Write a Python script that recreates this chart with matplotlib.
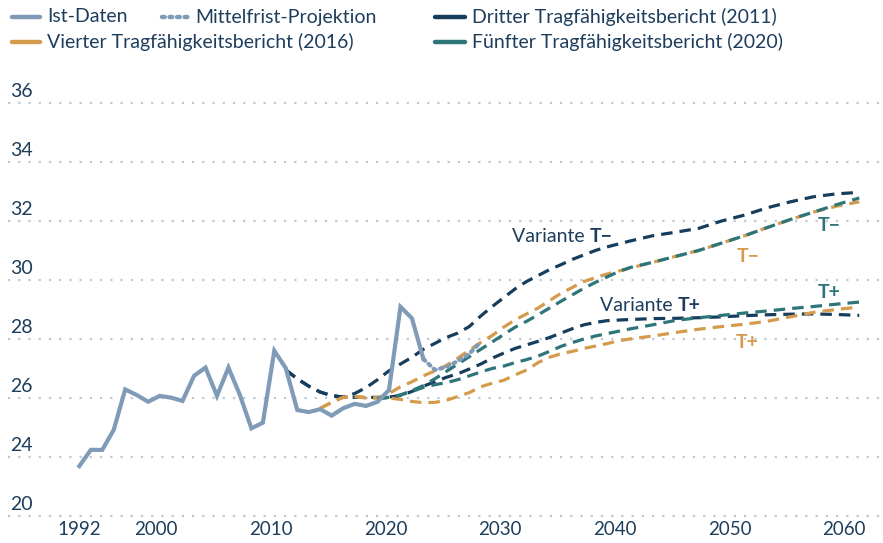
import matplotlib.pyplot as plt
from matplotlib.lines import Line2D

plt.rcParams['font.family'] = ['Lato', 'DejaVu Sans']

# --- data -------------------------------------------------------------
ist_years = list(range(1992, 2023))
ist = [23.69, 24.24, 24.24, 24.92, 26.29, 26.10, 25.87, 26.07, 26.01, 25.90,
       26.75, 27.03, 26.07, 27.03, 26.10, 24.97, 25.16, 27.60, 27.01, 25.59,
       25.52, 25.62, 25.40, 25.65, 25.80, 25.73, 25.87, 26.27, 29.09, 28.70, 27.32]

mf_years = list(range(2022, 2028))
mf = [27.32, 26.95, 27.05, 27.25, 27.50, 27.90]

late_years = list(range(2042, 2061, 2))

# Dritter Tragfähigkeitsbericht (2011)
d_years = list(range(2010, 2041)) + late_years
d_tminus = [26.95, 26.65, 26.40, 26.20, 26.08, 26.03, 26.15, 26.35, 26.62, 26.92,
            27.15, 27.38, 27.65, 27.85, 28.05, 28.20, 28.42, 28.78, 29.10, 29.40,
            29.70, 29.95, 30.15, 30.35, 30.52, 30.70, 30.85, 31.00, 31.12, 31.22,
            31.32,
            31.50, 31.62, 31.75, 32.00, 32.20, 32.45, 32.65, 32.82, 32.92, 32.97]
d_tplus = [26.95, 26.65, 26.40, 26.20, 26.08, 26.03, 26.02, 26.02, 26.02, 26.03,
           26.08, 26.22, 26.40, 26.55, 26.70, 26.82, 26.98, 27.15, 27.35, 27.52,
           27.68, 27.80, 27.92, 28.05, 28.20, 28.35, 28.48, 28.56, 28.62, 28.64,
           28.66,
           28.69, 28.70, 28.72, 28.75, 28.79, 28.82, 28.84, 28.85, 28.83, 28.80]

# Vierter Tragfähigkeitsbericht (2016)
v_years = list(range(2013, 2041)) + late_years
v_tminus = [25.65, 25.85, 26.02, 26.05, 26.00, 26.00, 26.15, 26.38, 26.55,
            26.75, 26.92, 27.10, 27.35, 27.62, 27.88, 28.12, 28.40,
            28.65, 28.85, 29.05, 29.30, 29.55, 29.75, 29.95, 30.08, 30.20, 30.30,
            30.40,
            30.60, 30.80, 31.00, 31.25, 31.50, 31.78, 32.05, 32.30, 32.50, 32.65]
v_tplus = [25.65, 25.85, 26.02, 26.05, 26.00, 26.00, 26.00, 25.95, 25.88,
           25.84, 25.85, 25.92, 26.05, 26.18, 26.38, 26.50, 26.60,
           26.78, 26.95, 27.20, 27.38, 27.50, 27.58, 27.68, 27.76, 27.84, 27.94,
           28.00,
           28.10, 28.22, 28.33, 28.42, 28.50, 28.60, 28.75, 28.90, 29.00, 29.08]

# Fünfter Tragfähigkeitsbericht (2020)
f_years = list(range(2018, 2041)) + late_years
f_tminus = [25.98, 26.02, 26.10, 26.25, 26.42, 26.65,
            26.90, 27.15, 27.40, 27.65, 27.90, 28.15,
            28.40, 28.60, 28.82, 29.05, 29.28, 29.50, 29.72, 29.92, 30.10, 30.28,
            30.42,
            30.60, 30.80, 31.00, 31.25, 31.50, 31.78, 32.05, 32.30, 32.55, 32.78]
f_tplus = [25.98, 26.02, 26.10, 26.22, 26.36, 26.45, 26.52, 26.62, 26.75, 26.88,
           27.00, 27.08, 27.20, 27.30, 27.42, 27.58, 27.75, 27.88, 28.00, 28.10,
           28.18, 28.26, 28.34,
           28.48, 28.63, 28.72, 28.80, 28.88, 28.95, 29.03, 29.10, 29.18, 29.25]

# y axis is broken: the lowest gridline stands for 20
grid_vals = [22, 24, 26, 28, 30, 32, 34, 36]
grid_labels = ['20', '24', '26', '28', '30', '32', '34', '36']
xtick_years = [1992, 2000, 2010, 2020, 2030, 2040, 2050, 2060]

# --- style ------------------------------------------------------------
c_ist = '#7f9bb7'
c_dark = '#163d5c'
c_orange = '#d49b4c'
c_teal = '#2e7579'
c_grid = '#bdc9d5'
c_text = '#1d3d5c'

W, H = 883, 543
fig = plt.figure(figsize=(W / 100, H / 100), dpi=100)
ax = fig.add_axes([8 / W, 1 - 518 / H, (W - 8) / W, (518 - 85) / H])
ax.set_xlim(1985.78, 2062.07)
ax.set_ylim(21.93, 36.61)
for s in ax.spines.values():
    s.set_visible(False)

for v, lab in zip(grid_vals, grid_labels):
    ax.axhline(v, color=c_grid, lw=1.6, dashes=(1, 3.6), zorder=0)
    ax.annotate(lab, xy=(0, v), xycoords=('axes fraction', 'data'),
                xytext=(2, 3), textcoords='offset pixels', va='bottom',
                ha='left', fontsize=14, color=c_text)
ax.set_yticks([])

# labels in the original sit a little left of their year (except 1992)
xtick_pos = [xtick_years[0]] + [y - 1.3 for y in xtick_years[1:]]
ax.set_xticks(xtick_pos)
ax.set_xticklabels([str(y) for y in xtick_years], fontsize=13.5, color=c_text)
ax.tick_params(axis='x', length=0, pad=2)

dash_kw = dict(lw=2.3, dashes=(3.6, 2.2))
ax.plot(d_years, d_tminus, color=c_dark, **dash_kw)
ax.plot(d_years, d_tplus, color=c_dark, **dash_kw)
ax.plot(v_years, v_tminus, color=c_orange, **dash_kw)
ax.plot(v_years, v_tplus, color=c_orange, **dash_kw)
ax.plot(f_years, f_tminus, color=c_teal, **dash_kw)
ax.plot(f_years, f_tplus, color=c_teal, **dash_kw)

ax.plot(ist_years, ist, color=c_ist, lw=3, solid_joinstyle='miter')
ax.plot(mf_years, mf, color=c_ist, lw=3, dashes=(0.6, 1.1),
        dash_capstyle='round')


def variante(x, y, tag, color, bold_only=False):
    if bold_only:
        ax.text(x, y, tag, fontsize=14, fontweight='bold', color=color,
                va='center', ha='center')
        return
    t = ax.text(x, y, 'Variante ', fontsize=14, color=color, va='center',
                ha='left')
    ax.annotate(tag, xy=(1, 0.5), xycoords=t, va='center', ha='left',
                fontsize=14, fontweight='bold', color=color)


variante(2029.7, 31.46, 'T\u2212', c_text)
variante(2037.4, 29.12, 'T+', c_text)
variante(2057.4, 31.85, 'T\u2212', c_teal, True)
variante(2050.3, 30.80, 'T\u2212', c_orange, True)
variante(2057.4, 29.59, 'T+', c_teal, True)
variante(2050.2, 27.88, 'T+', c_orange, True)

# --- legend (manual, two rows) ---------------------------------------
legend_items = [
    (12, 40, 17, 'Ist-Daten', c_ist, None),
    (162, 188, 17, 'Mittelfrist-Projektion', c_ist, (0.6, 1.1)),
    (435, 465, 17, 'Dritter Tragfähigkeitsbericht (2011)', c_dark, None),
    (12, 40, 42, 'Vierter Tragfähigkeitsbericht (2016)', c_orange, None),
    (435, 465, 42, 'Fünfter Tragfähigkeitsbericht (2020)', c_teal, None),
]
for x0, x1, y, label, col, dsh in legend_items:
    ln = Line2D([x0 / W, x1 / W], [1 - y / H, 1 - y / H], color=col, lw=3.2,
                transform=fig.transFigure, solid_capstyle='round')
    if dsh:
        ln.set_dashes(dsh)
        ln.set_dash_capstyle('round')
    fig.add_artist(ln)
    fig.text((x1 + 7) / W, 1 - y / H, label, fontsize=14, color=c_text,
             va='center', ha='left')

fig.savefig('out.png', dpi=100)
